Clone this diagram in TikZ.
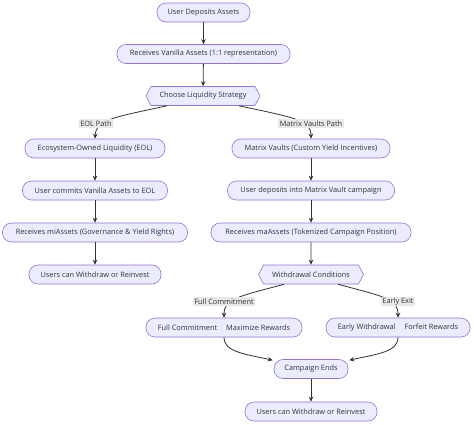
\documentclass[tikz,border=0pt]{standalone}
\usepackage{fontspec}
\setmainfont{Open Sans}
\usetikzlibrary{shapes.symbols,arrows.meta,calc}
\definecolor{nodefill}{HTML}{ECECFF}
\definecolor{nodeline}{HTML}{9370DB}
\definecolor{txt}{HTML}{333333}
\definecolor{lblfill}{HTML}{E8E8E8}
\begin{document}
\begin{tikzpicture}[x=1bp,y=-1bp,
  every node/.style={font=\fontsize{7.4}{8.5}\selectfont, text=txt},
  box/.style={draw=nodeline, fill=nodefill, rounded corners=9bp, minimum height=19bp, inner xsep=5bp, inner ysep=0pt, line width=0.6bp},
  hexa/.style={draw=nodeline, fill=nodefill, signal, signal to=east and west, signal pointer angle=124, minimum height=19bp, inner xsep=3bp, inner ysep=0pt, line width=0.6bp},
  lbl/.style={fill=lblfill, inner sep=1.3bp},
  arr/.style={-{Stealth[length=5bp,width=4.5bp]}, draw=txt, line width=0.8bp}]
\useasboundingbox[fill=white] (0,0) rectangle (474,424);

\node[box, minimum width=93bp] (n1) at (203.5,12.5) {User Deposits Assets};
\node[box, minimum width=173bp] (n2) at (203.5,54) {Receives Vanilla Assets (1:1 representation)};
\node[hexa, minimum width=114bp] (n3) at (203,96) {Choose Liquidity Strategy};

\node[box, minimum width=140bp] (e1) at (95,148.5) {Ecosystem-Owned Liquidity (EOL)};
\node[box, minimum width=145bp] (e2) at (95,190.5) {User commits Vanilla Assets to EOL};
\node[box, minimum width=185bp] (e3) at (95,232.5) {Receives miAssets (Governance \& Yield Rights)};
\node[box, minimum width=132bp] (e4) at (95,274.5) {Users can Withdraw or Reinvest};

\node[box, minimum width=158bp] (m1) at (311,148.5) {Matrix Vaults (Custom Yield Incentives)};
\node[box, minimum width=167bp] (m2) at (311,190.5) {User deposits into Matrix Vault campaign};
\node[box, minimum width=200bp] (m3) at (311,232.5) {Receives maAssets (Tokenized Campaign Position)};
\node[hexa, minimum width=105bp] (m4) at (311,274.5) {Withdrawal Conditions};

\node[box, minimum width=156bp] (f1) at (224,327.5) {Full Commitment\hspace{9bp}Maximize Rewards};
\node[box, minimum width=144bp] (x1) at (398,327.5) {Early Withdrawal\hspace{9bp}Forfeit Rewards};
\node[box, minimum width=74bp] (c1) at (311,369) {Campaign Ends};
\node[box, minimum width=132bp] (c2) at (311,411.5) {Users can Withdraw or Reinvest};

\draw[arr] (n1) -- (n2);
\draw[arr] (n2) -- (n3);
\draw[arr] (e1) -- (e2);
\draw[arr] (e2) -- (e3);
\draw[arr] (e3) -- (e4);
\draw[arr] (m1) -- (m2);
\draw[arr] (m2) -- (m3);
\draw[arr] (m3) -- (m4);
\draw[arr] (c1) -- (c2);

\coordinate (s1) at ($(n3.south)+(-36,0)$);
\coordinate (s2) at ($(n3.south)+(36,0)$);
\draw[arr] (s1) .. controls (110,118) and (96,120) .. (e1.north);
\draw[arr] (s2) .. controls (296,118) and (311,120) .. (m1.north);
\node[lbl] (l1) at (96,123.5) {EOL Path};
\node[lbl] (l2) at (311,123.5) {Matrix Vaults Path};

\coordinate (w1) at ($(m4.south)+(-27,0)$);
\coordinate (w2) at ($(m4.south)+(27,0)$);
\draw[arr] (w1) .. controls (236,297) and (224,299) .. (f1.north);
\draw[arr] (w2) .. controls (386,297) and (398,299) .. (x1.north);
\node[lbl] (l3) at (224,301.5) {Full Commitment};
\node[lbl] (l4) at (398,301.5) {Early Exit};

\coordinate (t1) at ($(c1.north west)+(-1,1)$);
\coordinate (t2) at ($(c1.north east)+(1,1)$);
\draw[arr] (f1.south) .. controls (224,352) and (245,354) .. (t1);
\draw[arr] (x1.south) .. controls (398,352) and (377,354) .. (t2);
\end{tikzpicture}
\end{document}
